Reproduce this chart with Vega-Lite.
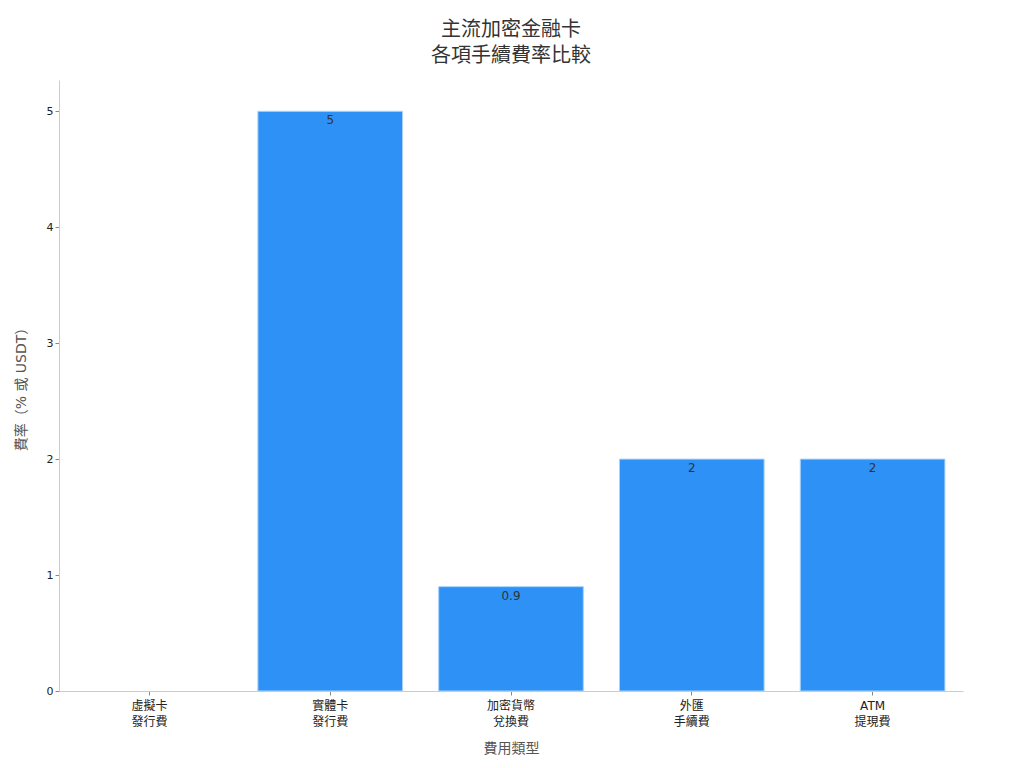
{
  "$schema": "https://vega.github.io/schema/vega-lite/v6.json",
  "autosize": {"type": "none"},
  "width": 904,
  "height": 611,
  "padding": {"left": 59, "top": 80, "right": 61, "bottom": 77},
  "background": "white",
  "config": {
    "font": "DejaVu Sans, Noto Sans CJK TC, sans-serif",
    "view": {"stroke": null},
    "axis": {
      "grid": false,
      "domainColor": "#cccccc",
      "tickColor": "#888888",
      "tickSize": 4,
      "labelColor": "#222222",
      "labelFontSize": 12,
      "titleColor": "#555555",
      "titleFontSize": 14,
      "titleFontWeight": "normal"
    }
  },
  "title": {
    "text": ["主流加密金融卡", "各項手續費率比較"],
    "fontSize": 20,
    "fontWeight": "normal",
    "color": "#333333",
    "lineHeight": 26,
    "anchor": "middle",
    "offset": 14
  },
  "data": {
    "values": [
      {"類型": "虛擬卡\n發行費", "費率": 0},
      {"類型": "實體卡\n發行費", "費率": 5},
      {"類型": "加密貨幣\n兌換費", "費率": 0.9},
      {"類型": "外匯\n手續費", "費率": 2},
      {"類型": "ATM\n提現費", "費率": 2}
    ]
  },
  "encoding": {
    "x": {
      "field": "類型",
      "type": "nominal",
      "sort": null,
      "title": "費用類型",
      "scale": {"paddingInner": 0.2, "paddingOuter": 0.1},
      "axis": {
        "labelAngle": 0,
        "labelExpr": "split(datum.label, '\\n')",
        "labelLineHeight": 16,
        "labelPadding": 5,
        "titlePadding": 14
      }
    },
    "y": {
      "field": "費率",
      "type": "quantitative",
      "title": "費率（% 或 USDT）",
      "scale": {"domain": [0, 5.27], "nice": false},
      "axis": {"values": [0, 1, 2, 3, 4, 5], "labelFontSize": 11, "titlePadding": 18}
    }
  },
  "layer": [
    {
      "mark": {"type": "bar", "color": "#2e91f5", "stroke": "#a9d2f8", "strokeWidth": 1},
      "encoding": {
        "strokeOpacity": {"condition": {"test": "datum['費率'] <= 0", "value": 0}, "value": 1}
      }
    },
    {
      "transform": [{"filter": "datum['費率'] > 0"}],
      "mark": {"type": "text", "baseline": "top", "dy": 4, "fontSize": 12, "color": "#333333"},
      "encoding": {"text": {"field": "費率", "type": "quantitative"}}
    }
  ]
}
